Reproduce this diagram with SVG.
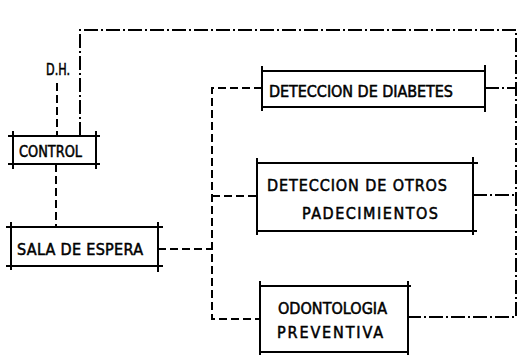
<svg xmlns="http://www.w3.org/2000/svg" width="517" height="355" viewBox="0 0 517 355">
<style>
.box{stroke:#000;stroke-width:2;fill:none;stroke-linecap:square}
.t{font-family:"DejaVu Sans Condensed","DejaVu Sans",sans-serif;font-size:16px;fill:#000;stroke:#000;stroke-width:0.5}
.dash{stroke:#000;stroke-width:2;fill:none;stroke-dasharray:8 4}
.dd{stroke:#000;stroke-width:2;fill:none;stroke-dasharray:14 3 2 3}
</style>
<rect width="517" height="355" fill="#fff"/>
<g id="connectors">
<path class="dash" d="M57 83 V136"/>
<path class="dd" d="M80 136 V30 H516 V317 H408"/>
<path class="dd" d="M485 88 H516"/>
<path class="dd" d="M473 195 H516"/>
<path class="dash" d="M56 164 V227"/>
<path class="dash" d="M158 249 H212"/>
<path class="dash" d="M262 88 H212 V319 H260"/>
<path class="dash" d="M212 196 H257"/>
<text class="t" x="46" y="75" font-size="14" textLength="24" lengthAdjust="spacingAndGlyphs">D.H.</text>
</g>
<g id="control">
<path class="box" d="M9 136 H99 M9 164 H99 M13 132 V168 M96 132 V168"/>
<text class="t" x="19" y="157" font-size="17" textLength="63" lengthAdjust="spacingAndGlyphs">CONTROL</text>
</g>
<g id="sala">
<path class="box" d="M7 227 H162 M7 266 H162 M11 223 V269 M158 223 V271"/>
<text class="t" x="17" y="255" textLength="126" lengthAdjust="spacing">SALA DE ESPERA</text>
</g>
<g id="diabetes">
<path class="box" d="M262 71 H485 M262 107 H485 M262 67 V110 M485 66 V111"/>
<text class="t" x="269" y="97" textLength="184" lengthAdjust="spacing">DETECCION DE DIABETES</text>
</g>
<g id="otros">
<path class="box" d="M257 163 H477 M257 231 H476 M257 159 V234 M473 158 V234"/>
<text class="t" x="267" y="191" textLength="180" lengthAdjust="spacing">DETECCION DE OTROS</text>
<text class="t" x="302" y="219" textLength="136" lengthAdjust="spacing">PADECIMIENTOS</text>
</g>
<g id="odontologia">
<path class="box" d="M260 286 H410 M260 352 H408 M260 282 V355 M408 282 V355"/>
<text class="t" x="278" y="314" font-size="15" textLength="109" lengthAdjust="spacing">ODONTOLOGIA</text>
<text class="t" x="277" y="338" font-size="15" textLength="106" lengthAdjust="spacing">PREVENTIVA</text>
</g>
</svg>
